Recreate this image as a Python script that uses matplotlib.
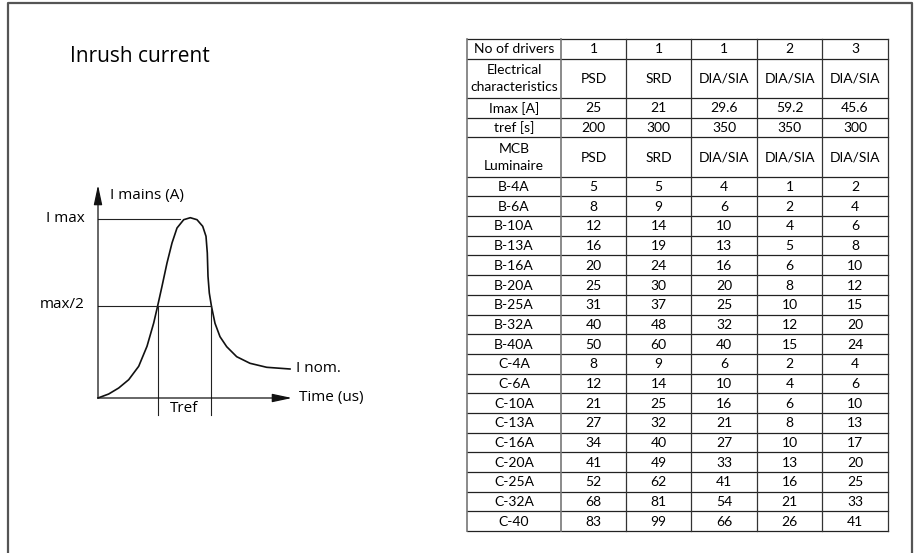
import matplotlib
matplotlib.use("Agg")
import matplotlib.pyplot as plt

# ---- table data ----
col_heads = ['1', '1', '1', '2', '3']
elec_chars = ['PSD', 'SRD', 'DIA/SIA', 'DIA/SIA', 'DIA/SIA']
imax_vals = ['25', '21', '29.6', '59.2', '45.6']
tref_vals = ['200', '300', '350', '350', '300']
mcb_labels = ['B-4A', 'B-6A', 'B-10A', 'B-13A', 'B-16A', 'B-20A', 'B-25A', 'B-32A', 'B-40A',
              'C-4A', 'C-6A', 'C-10A', 'C-13A', 'C-16A', 'C-20A', 'C-25A', 'C-32A', 'C-40']
psd = [5, 8, 12, 16, 20, 25, 31, 40, 50, 8, 12, 21, 27, 34, 41, 52, 68, 83]
srd = [5, 9, 14, 19, 24, 30, 37, 48, 60, 9, 14, 25, 32, 40, 49, 62, 81, 99]
dia_1 = [4, 6, 10, 13, 16, 20, 25, 32, 40, 6, 10, 16, 21, 27, 33, 41, 54, 66]
dia_2 = [1, 2, 4, 5, 6, 8, 10, 12, 15, 2, 4, 6, 8, 10, 13, 16, 21, 26]
dia_3 = [2, 4, 6, 8, 10, 12, 15, 20, 24, 4, 6, 10, 13, 17, 20, 25, 33, 41]

# ---- inrush curve (sketch), time vs current ----
curve_t = [0, 10.7, 20.7, 30.7, 40.7, 49, 55.7, 59.7, 64, 69, 74, 79, 85.7, 92.3,
           99, 104.7, 108, 109.3, 110, 111.3, 113.5, 117, 122, 128.7, 138.7, 152,
           168.7, 192]
curve_i = [0, 4, 10, 18.3, 31.7, 51.7, 75, 92.3, 111.7, 135, 155, 170, 178.3, 180.3,
           178.3, 171.7, 161.7, 145, 121.7, 105, 91.5, 74.7, 61.3, 51.3, 41.3, 34.7,
           30.7, 29]
i_max = 179
i_half = 92
t_rise = 59.5
t_fall = 113
t_axis = 194
i_axis = 213

W, H = 917, 553
fig = plt.figure(figsize=(W / 100, H / 100), dpi=100)
ax = fig.add_axes([0, 0, 1, 1])
ax.set_xlim(0, W)
ax.set_ylim(H, 0)
ax.axis('off')

# frame around the page
ax.plot([8, 8, 912, 912], [H, 3, 3, H], color='#555555', lw=1.6)

diag_font = 'Open Sans'
ax.text(70, 57, 'Inrush current', fontsize=15, family=diag_font, va='center', ha='left')

# ---- diagram ----
ox, oy = 98, 398
dx = fig.add_axes([ox / W, (H - oy) / H, t_axis / W, i_axis / H])
dx.set_xlim(0, t_axis)
dx.set_ylim(0, i_axis)
dx.axis('off')
dx.patch.set_alpha(0)
dx.plot(curve_t, curve_i, color='#111111', lw=1.2, clip_on=False,
        solid_joinstyle='round')
arrow = dict(arrowstyle='-|>,head_length=1.5,head_width=0.32', color='#111111',
             lw=0.9, mutation_scale=8, shrinkA=0, shrinkB=0)
dx.annotate('', xy=(0, i_axis), xytext=(0, 0), arrowprops=arrow)
dx.annotate('', xy=(t_axis, 0), xytext=(0, 0), arrowprops=arrow)
dx.plot([0, 82], [i_max, i_max], color='#222222', lw=0.8, clip_on=False)
dx.plot([0, t_fall], [i_half, i_half], color='#222222', lw=0.8, clip_on=False)
dx.plot([t_rise, t_rise], [i_half, -17], color='#222222', lw=0.8, clip_on=False)
dx.plot([t_fall, t_fall], [i_half, -17], color='#222222', lw=0.8, clip_on=False)

fs_d = 11
dx.text(-13, i_max + 1, 'I max', fontsize=fs_d, family=diag_font, ha='right', va='center')
dx.text(-13, i_half + 1, 'max/2', fontsize=fs_d, family=diag_font, ha='right', va='center')
dx.text(12, 202, 'I mains (A)', fontsize=fs_d, family=diag_font, ha='left', va='center')
dx.text(198, 29, 'I nom.', fontsize=fs_d, family=diag_font, ha='left', va='center')
dx.text(201, 1, 'Time (us)', fontsize=fs_d, family=diag_font, ha='left', va='center')
dx.text((t_rise + t_fall) / 2, -11, 'Tref', fontsize=fs_d, family=diag_font,
        ha='center', va='center')

# ---- table ----
col_x = [467, 561, 626, 691, 757, 822, 888]
top = 39
unit = 19.68
rows = [('No of drivers', col_heads, 1),
        ('Electrical\ncharacteristics', elec_chars, 2),
        ('Imax [A]', imax_vals, 1),
        ('tref [s]', tref_vals, 1),
        ('MCB\nLuminaire', elec_chars, 2)]
for k, lab in enumerate(mcb_labels):
    vals = [psd[k], srd[k], dia_1[k], dia_2[k], dia_3[k]]
    rows.append((lab, [str(v) for v in vals], 1))

tab_font = 'Lato'
fs_t = 10
y = top
ys = [y]
for lab, vals, span in rows:
    h = span * unit
    cy = y + h / 2 + 0.5
    ax.text((col_x[0] + col_x[1]) / 2, cy, lab, fontsize=fs_t, family=tab_font,
            ha='center', va='center', linespacing=1.5)
    for j, v in enumerate(vals):
        ax.text((col_x[j + 1] + col_x[j + 2]) / 2, cy, v, fontsize=fs_t, family=tab_font,
                ha='center', va='center')
    y += h
    ys.append(y)

for yy in ys:
    ax.plot([col_x[0], col_x[-1]], [yy, yy], color='#222222', lw=0.9)
for k, xx in enumerate(col_x):
    c = '#777777' if k in (0, 1) else '#333333'
    ax.plot([xx, xx], [top, ys[-1]], color=c, lw=1.2 if k in (0, 1) else 0.9)

fig.savefig('out.png', dpi=100)
